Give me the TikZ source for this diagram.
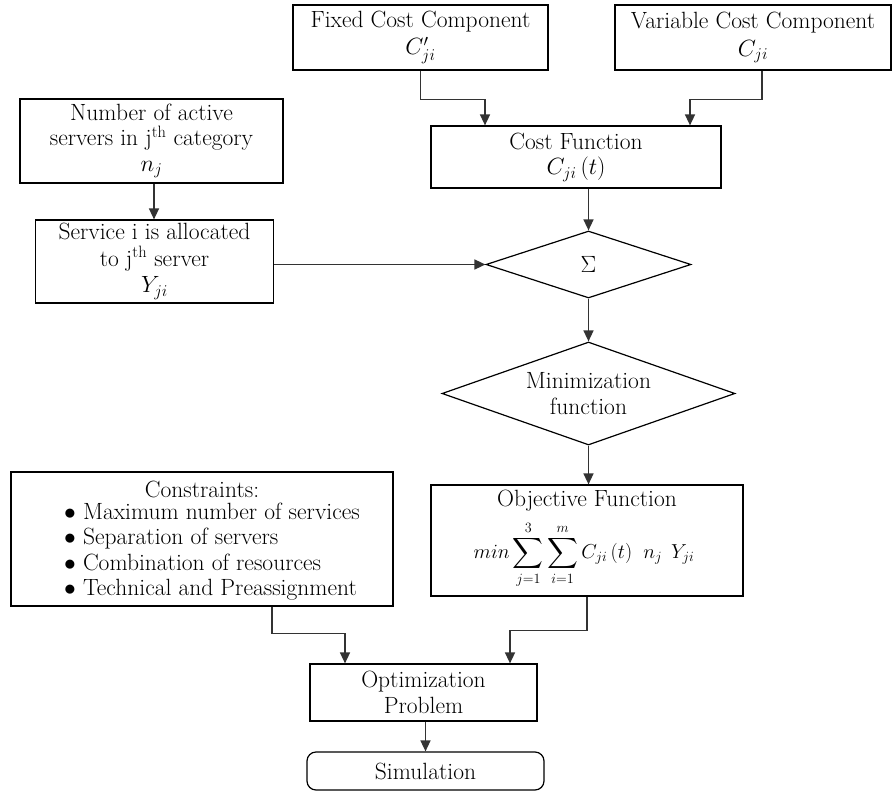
\RequirePackage{fix-cm}
\documentclass[tikz,border=0pt]{standalone}
\usepackage{amsmath}
\usetikzlibrary{arrows.meta,shapes.geometric}
\begin{document}
\begin{tikzpicture}[x=1pt,y=-1pt,
  font=\fontsize{23.5}{25.5}\selectfont,
  box/.style={draw=black,line width=1.2pt,rectangle,align=center,inner sep=0pt},
  dia/.style={draw=black,line width=1.2pt,diamond,align=center,inner sep=0pt},
  txt/.style={inner sep=0pt},
  conn/.style={draw=black!80,line width=1.5pt,-{Triangle[length=11pt,width=10pt]}}]
\useasboundingbox (0,0) rectangle (893,791);
% boxes
\node[box,minimum width=255pt,minimum height=65pt] (fixed) at (420.5,37.5) {Fixed Cost Component\\[2pt]$C'_{ji}$};
\node[box,minimum width=276pt,minimum height=65pt] (var) at (753,37.5) {Variable Cost Component\\[2pt]$C_{ji}$};
\node[box,minimum width=290pt,minimum height=62pt] (cost) at (576,157) {Cost Function\\$C_{ji}\,(t)$};
\node[dia,aspect=3.06,minimum width=205pt,minimum height=67pt] (sig) at (588.5,264.5) {$\Sigma$};
\node[dia,aspect=2.84,minimum width=293pt,minimum height=103pt] (mini) at (588.5,393.5) {Minimization\\function};
\node[box,minimum width=263pt,minimum height=84pt] (num) at (151.5,141) {Number of active\\servers in j\textsuperscript{th} category\\$n_j$};
\node[box,minimum width=238pt,minimum height=83pt] (serv) at (154.5,261.5) {Service i is allocated\\[1pt]to j\textsuperscript{th} server\\[1pt]$Y_{ji}$};
\node[box,minimum width=382pt,minimum height=134pt] (cons) at (202,539) {};
\node[txt] (consT) at (202,489) {Constraints:};
\node[txt,anchor=west,align=left] (consL) at (64,551.5) {$\bullet$ Maximum number of services\\$\bullet$ Separation of servers\\$\bullet$ Combination of resources\\$\bullet$ Technical and Preassignment};
\node[box,minimum width=312pt,minimum height=111pt] (obj) at (587,540.5) {};
\node[txt] (objt) at (587,501) {Objective Function};
\node[txt,scale=0.86] (objf) at (584,555) {$\displaystyle min\sum_{j=1}^{3}\sum_{i=1}^{m}C_{ji}\,(t)\;\;n_j\;\,Y_{ji}$};
\node[box,minimum width=227pt,minimum height=57pt] (opt) at (423.5,692.5) {Optimization\\Problem};
\node[box,rounded corners=9pt,minimum width=237pt,minimum height=38pt] (sim) at (425.5,771) {Simulation};
% connectors
\draw[conn] (fixed.south) -- ++(0,29) -| ([xshift=-91pt]cost.north);
\draw[conn] ([xshift=9pt]var.south) -- ++(0,29) -| ([xshift=114pt]cost.north);
\draw[conn] (cost.south -| sig.north) -- (sig.north);
\draw[conn] (num.south -| 154,0) -- (serv.north -| 154,0);
\draw[conn] (serv.east |- sig.west) -- (sig.west);
\draw[conn] (sig.south) -- (mini.north);
\draw[conn] (mini.south) -- (mini.south |- obj.north);
\draw[conn] ([xshift=70pt]cons.south) -- ++(0,27) -| ([xshift=-78.5pt]opt.north);
\draw[conn] (obj.south) -- ++(0,34) -| ([xshift=86.5pt]opt.north);
\draw[conn] (opt.south -| sim.north) -- (sim.north);
\end{tikzpicture}
\end{document}
